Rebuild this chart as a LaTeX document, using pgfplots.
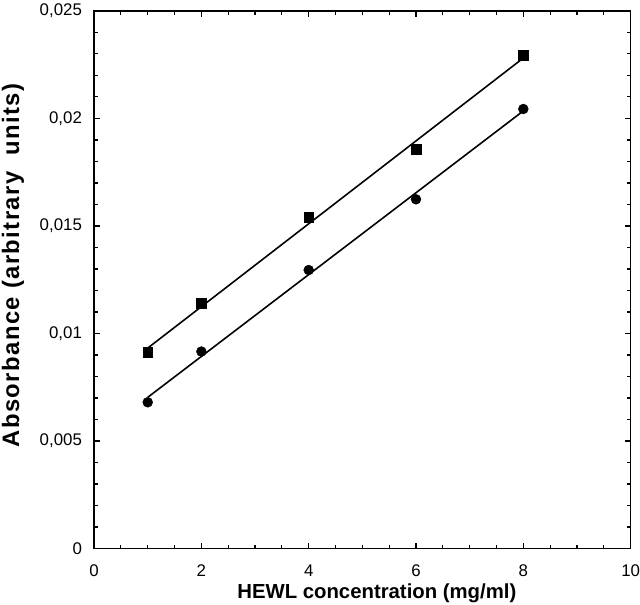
\documentclass[border=0pt]{standalone}
\usepackage{fontspec}
\setmainfont{Liberation Sans}
\usepackage{pgfplots}
\pgfplotsset{compat=1.18}

\begin{document}
\begin{tikzpicture}
\begin{axis}[
    scale only axis,
    width=539bp, height=540bp,
    xmin=0, xmax=10,
    ymin=0, ymax=0.025,
    xtick={0,2,4,6,8,10},
    ytick={0,0.005,0.01,0.015,0.02,0.025},
    minor x tick num=3,
    minor y tick num=4,
    tick align=inside,
    major tick length=6bp,
    minor tick length=4bp,
    every tick/.style={line width=1.1pt, black},
    axis line style={line width=1.5pt},
    scaled y ticks=false,
    yticklabel style={/pgf/number format/fixed, /pgf/number format/precision=3,
        /pgf/number format/use comma},
    /pgf/number format/assume math mode=true,
    tick label style={font=\fontsize{17}{19}\selectfont},
    xticklabel style={inner sep=0pt, yshift=-16bp},
    yticklabel style={inner xsep=0pt, inner ysep=4bp, xshift=-12bp},
    xlabel={\textbf{HEWL concentration (mg/ml)}},
    ylabel={\addfontfeature{LetterSpace=6}\textbf{Absorbance (arbitrary\ \ units)}},
    xlabel style={font=\fontsize{20.5}{22}\selectfont, at={(axis description cs:0.527,0)},
        anchor=north, inner sep=2bp, yshift=-33bp},
    ylabel style={font=\fontsize{24}{26}\selectfont, at={(axis description cs:0,0.528)},
        anchor=south, inner sep=2bp, yshift=68bp},
]
% data, squares
\addplot[only marks, mark=square*, mark size=5bp, black]
    coordinates {(1,0.00911)(2,0.01142)(4,0.0154)(6,0.01855)(8,0.02294)};
% data, circles
\addplot[only marks, mark=*, mark size=5bp, black]
    coordinates {(1,0.0068)(2,0.00916)(4,0.01295)(6,0.01624)(8,0.02044)};
% fitted lines
\addplot[black, line width=1.6pt, mark=none]
    coordinates {(1,0.00932)(8,0.02281)};
\addplot[black, line width=1.6pt, mark=none]
    coordinates {(1,0.00703)(8,0.02035)};
\end{axis}
\end{tikzpicture}
\end{document}
